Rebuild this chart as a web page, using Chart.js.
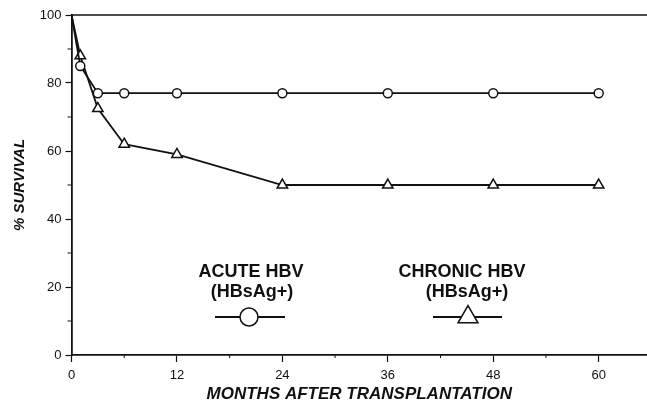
<!DOCTYPE html>
<html>
<head>
<meta charset="utf-8">
<script src="https://cdn.jsdelivr.net/npm/chart.js@4.4.1/dist/chart.umd.min.js"></script>
<style>
  body { margin: 0; background: #fff; }
  #wrap { width: 647px; height: 404px; }
</style>
</head>
<body>
<div id="wrap"><canvas id="grafico" width="647" height="404"></canvas></div>
<script>
// Meses depois do transplante
const meses = [0, 1, 3, 6, 12, 24, 36, 48, 60];
// Sobrevida (%) - hepatite B aguda (círculos)
const agudaHBV = [100, 85, 77, 77, 77, 77, 77, 77, 77];
// Sobrevida (%) - hepatite B crônica (triângulos)
const cronicaHBV = [100, 88, 72.5, 62, 59, 50, 50, 50, 50];
// Raio dos marcadores (o ponto inicial em 100% não tem marcador)
const raioMarcador = [0, 4.5, 4.5, 4.5, 4.5, 4.5, 4.5, 4.5, 4.5];
const raioTriangulo = [0, 6, 6, 6, 6, 6, 6, 6, 6];

// Ticks dos eixos
const ticksX = [0, 12, 24, 36, 48, 60];
const ticksXMenores = [6, 18, 30, 42, 54];
const ticksY = [0, 20, 40, 60, 80, 100];
const ticksYMenores = [10, 30, 50, 70, 90];

const fonte = '"Liberation Sans", Arial, Helvetica, sans-serif';

// Plugin para bordas, ticks menores e legenda desenhada dentro do gráfico
const extras = {
    id: 'extras',
    afterDraw(chart) {
        const ctx = chart.ctx;
        const area = chart.chartArea;
        const x = chart.scales.x;
        const y = chart.scales.y;
        ctx.save();
        ctx.strokeStyle = '#111';
        ctx.lineWidth = 1.5;
        // linha superior
        ctx.beginPath();
        ctx.moveTo(area.left, area.top);
        ctx.lineTo(area.right, area.top);
        ctx.stroke();
        // ticks menores
        ctx.lineWidth = 1;
        ticksXMenores.forEach(v => {
            const px = x.getPixelForValue(v);
            ctx.beginPath();
            ctx.moveTo(px, area.bottom);
            ctx.lineTo(px, area.bottom + 3);
            ctx.stroke();
        });
        ticksYMenores.forEach(v => {
            const py = y.getPixelForValue(v);
            ctx.beginPath();
            ctx.moveTo(area.left, py);
            ctx.lineTo(area.left - 4, py);
            ctx.stroke();
        });

        // legenda
        ctx.fillStyle = '#111';
        ctx.font = 'bold 18px ' + fonte;
        ctx.textAlign = 'center';
        ctx.textBaseline = 'middle';
        ctx.fillText('ACUTE HBV', 251, 272);
        ctx.fillText('(HBsAg+)', 252, 292);
        ctx.fillText('CHRONIC HBV', 462, 272);
        ctx.fillText('(HBsAg+)', 467, 292);

        ctx.lineWidth = 1.8;
        ctx.beginPath();
        ctx.moveTo(215, 317);
        ctx.lineTo(285, 317);
        ctx.moveTo(433, 317);
        ctx.lineTo(502, 317);
        ctx.stroke();

        ctx.lineWidth = 1.5;
        ctx.fillStyle = '#fff';
        ctx.beginPath();
        ctx.arc(249, 317, 9, 0, Math.PI * 2);
        ctx.fill();
        ctx.stroke();

        const r = 11.5;
        ctx.beginPath();
        for (let i = 0; i < 3; i++) {
            const a = i * 2 * Math.PI / 3;
            const px = 468 + Math.sin(a) * r;
            const py = 317 - Math.cos(a) * r;
            if (i === 0) ctx.moveTo(px, py); else ctx.lineTo(px, py);
        }
        ctx.closePath();
        ctx.fill();
        ctx.stroke();
        ctx.restore();
    }
};

const ctx = document.getElementById('grafico').getContext('2d');
new Chart(ctx, {
    type: 'line',
    data: {
        datasets: [{
            label: 'ACUTE HBV (HBsAg+)',
            data: meses.map((m, i) => ({ x: m, y: agudaHBV[i] })),
            borderColor: '#111',
            borderWidth: 1.8,
            pointStyle: 'circle',
            pointRadius: raioMarcador,
            pointBackgroundColor: '#fff',
            pointBorderColor: '#111',
            pointBorderWidth: 1.5,
            tension: 0,
            fill: false
        }, {
            label: 'CHRONIC HBV (HBsAg+)',
            data: meses.map((m, i) => ({ x: m, y: cronicaHBV[i] })),
            borderColor: '#111',
            borderWidth: 1.8,
            pointStyle: 'triangle',
            pointRadius: raioTriangulo,
            pointBackgroundColor: '#fff',
            pointBorderColor: '#111',
            pointBorderWidth: 1.5,
            tension: 0,
            fill: false
        }]
    },
    options: {
        responsive: false,
        animation: false,
        devicePixelRatio: 1,
        layout: { autoPadding: false, padding: { top: 15, right: 0, left: 0, bottom: 0 } },
        plugins: {
            legend: { display: false },
            tooltip: { enabled: false }
        },
        scales: {
            x: {
                type: 'linear',
                min: 0,
                max: 65.5,
                afterBuildTicks: scale => { scale.ticks = ticksX.map(v => ({ value: v })); },
                afterFit: scale => { scale.height = 49; scale.paddingRight = 0; },
                grid: { drawOnChartArea: false, drawTicks: true, tickLength: 7, tickColor: '#111', tickWidth: 1.2 },
                border: { color: '#111', width: 1.8 },
                ticks: { color: '#111', font: { family: fonte, size: 13 }, padding: 6, maxRotation: 0 },
                title: {
                    display: true,
                    text: 'MONTHS AFTER TRANSPLANTATION',
                    color: '#111',
                    font: { family: fonte, size: 17, weight: 'bold', style: 'italic', lineHeight: 1 },
                    padding: { top: 0, bottom: 1 }
                }
            },
            y: {
                type: 'linear',
                min: 0,
                max: 100,
                afterBuildTicks: scale => { scale.ticks = ticksY.map(v => ({ value: v })); },
                afterFit: scale => { scale.width = 71.5; },
                grid: { drawOnChartArea: false, drawTicks: true, tickLength: 6, tickColor: '#111', tickWidth: 1.2 },
                border: { color: '#111', width: 1.8 },
                ticks: { color: '#111', font: { family: fonte, size: 13 }, padding: 4 },
                title: {
                    display: true,
                    text: '% SURVIVAL',
                    color: '#111',
                    font: { family: fonte, size: 15, weight: 'bold', style: 'italic', lineHeight: 1.2 },
                    padding: { top: 11, bottom: 0 }
                }
            }
        }
    },
    plugins: [extras]
});
</script>
</body>
</html>
